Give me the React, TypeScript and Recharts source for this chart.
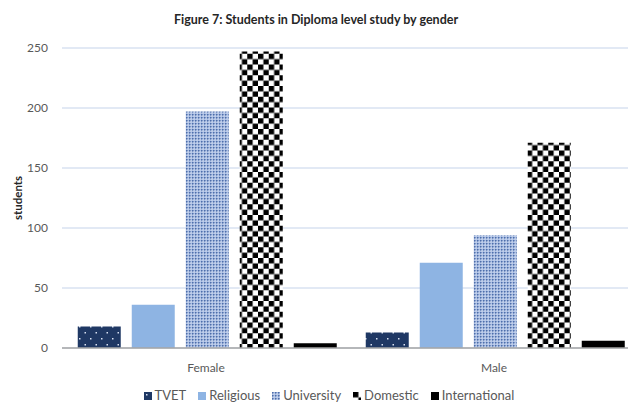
import { BarChart, Bar, XAxis, YAxis, CartesianGrid, Legend } from 'recharts';

const genders = ['Female', 'Male'];
const tvet = [18, 13];
const religious = [36, 71];
const university = [197, 94];
const domestic = [247, 171];
const international = [4, 6];
const yTicks = [0, 50, 100, 150, 200, 250];

const seriesList = [
  { key: 'TVET', values: tvet, fill: 'url(#tvetPat)' },
  { key: 'Religious', values: religious, fill: '#8eb4e3' },
  { key: 'University', values: university, fill: 'url(#uniPat)' },
  { key: 'Domestic', values: domestic, fill: 'url(#domPat)' },
  { key: 'International', values: international, fill: '#000000' },
];

const data = genders.map((g, i) => {
  const row: Record<string, string | number> = { gender: g };
  seriesList.forEach(s => {
    row[s.key] = s.values[i];
  });
  return row;
});

const FONT = 'Lato, "Open Sans", sans-serif';

const LegendContent = () => (
  <div
    style={{
      display: 'flex',
      justifyContent: 'center',
      paddingLeft: 18,
      fontFamily: FONT,
      fontSize: 13,
      color: '#595959',
      lineHeight: '15px',
      gap: 12,
    }}
  >
    {seriesList.map(s => (
      <span key={s.key} style={{ display: 'flex', alignItems: 'center' }}>
        <svg width={8} height={8} style={{ marginRight: 3 }}>
          <rect width={8} height={8} fill={s.fill} />
        </svg>
        {s.key}
      </span>
    ))}
  </div>
);

const YLabel = (props: any) => {
  const vb = props.viewBox || { x: 0, y: 48, width: 62, height: 300 };
  const cx = 17;
  const cy = vb.y + vb.height / 2;
  return (
    <text
      x={cx}
      y={cy}
      transform={`rotate(-90 ${cx} ${cy})`}
      textAnchor="middle"
      dominantBaseline="central"
      fontFamily={FONT}
      fontSize={11.5}
      fontWeight="bold"
      fill="#262626"
    >
      students
    </text>
  );
};

export default function App() {
  return (
    <div
      style={{
        position: 'absolute',
        left: 0,
        top: 0,
        width: 628,
        height: 405,
        overflow: 'hidden',
        background: '#fff',
      }}
    >
      <div
        style={{
          position: 'absolute',
          top: 12,
          left: 0,
          width: 632,
          textAlign: 'center',
          fontFamily: FONT,
          fontWeight: 'bold',
          fontSize: 12.5,
          color: '#262626',
        }}
      >
        Figure 7: Students in Diploma level study by gender
      </div>
      <BarChart
        width={640}
        height={405}
        data={data}
        margin={{ top: 48, right: 2, bottom: 27, left: 0 }}
        barCategoryGap={15.75}
        barGap={11}
      >
        <defs>
          <pattern id="tvetPat" width={11} height={12} patternUnits="userSpaceOnUse">
            <rect width={11} height={12} fill="#1f3864" />
            <rect x={2} y={2} width={1.5} height={1.5} fill="#d9e1f2" />
            <rect x={7.5} y={8} width={1.5} height={1.5} fill="#d9e1f2" />
          </pattern>
          <pattern id="uniPat" width={3} height={3} patternUnits="userSpaceOnUse">
            <rect width={3} height={3} fill="#a8bde3" />
            <rect x={0} y={0} width={1.5} height={1.5} fill="#4e6eaa" />
            <rect x={1.5} y={1.5} width={1} height={1} fill="#ffffff" />
          </pattern>
          <pattern id="domPat" width={10.75} height={10.75} patternUnits="userSpaceOnUse">
            <rect width={10.75} height={10.75} fill="#ffffff" />
            <rect x={0} y={0} width={5.4} height={5.4} fill="#000000" />
            <rect x={5.4} y={5.4} width={5.4} height={5.4} fill="#000000" />
          </pattern>
        </defs>
        <CartesianGrid vertical={false} stroke="#c5d3ea" strokeWidth={1} />
        <XAxis
          dataKey="gender"
          height={30}
          axisLine={{ stroke: '#a6a6a6', strokeWidth: 1.5 }}
          tickLine={false}
          tickMargin={9}
          tick={{ fontFamily: FONT, fontSize: 12, fill: '#595959' }}
        />
        <YAxis
          width={62}
          domain={[0, 250]}
          ticks={yTicks}
          axisLine={false}
          tickLine={false}
          tickMargin={8}
          tick={{ fontFamily: FONT, fontSize: 12, fill: '#595959' }}
          label={<YLabel />}
        />
        <Legend
          layout="horizontal"
          verticalAlign="middle"
          align="center"
          content={<LegendContent />}
          wrapperStyle={{ top: 388, left: 0, width: 640 }}
        />
        {seriesList.map(s => (
          <Bar key={s.key} dataKey={s.key} fill={s.fill} isAnimationActive={false} />
        ))}
      </BarChart>
    </div>
  );
}
